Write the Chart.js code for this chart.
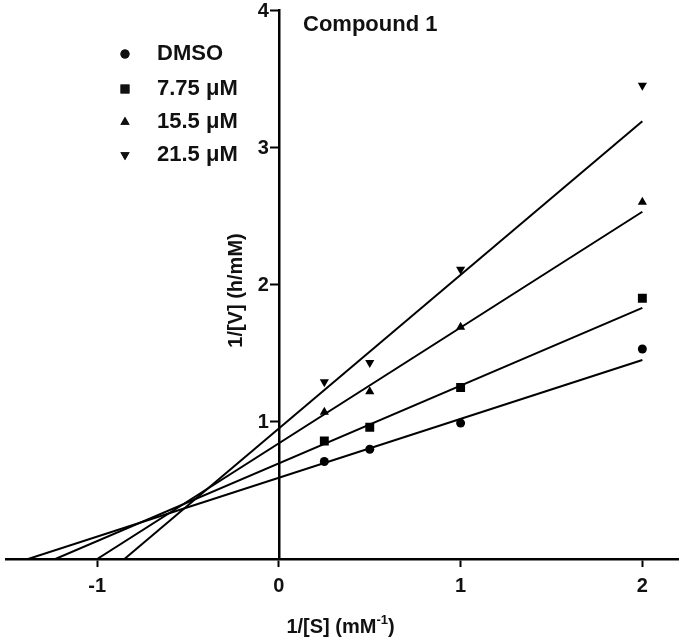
<!DOCTYPE html>
<html>
<head>
<meta charset="utf-8">
<script src="https://cdn.jsdelivr.net/npm/chart.js@4/dist/chart.umd.min.js"></script>
<style>
  html, body { margin: 0; padding: 0; background: #fff; }
  #wrap { width: 685px; height: 639px; position: relative; }
</style>
</head>
<body>
<div id="wrap"><canvas id="chart"></canvas></div>
<script>
// 1/[S] values (mM^-1)
const sInv = [0.25, 0.5, 1, 2];

// 1/[V] values (h/mM) for each condition
const dmso = [0.71, 0.80, 0.99, 1.53];
const c775 = [0.86, 0.96, 1.25, 1.90];
const c155 = [1.07, 1.22, 1.69, 2.60];
const c215 = [1.29, 1.43, 2.11, 3.45];

// fitted lines: start on the x axis, end at 1/[S] = 2
const fitStartX = [-1.38, -1.23, -1.00, -0.85];
const fitEndX = 2;
const fitEndY = [1.45, 1.83, 2.53, 3.19];

const seriesNames = ['DMSO', '7.75 \u03bcM', '15.5 \u03bcM', '21.5 \u03bcM'];
const xTicks = [-1, 0, 1, 2];
const yTicks = [1, 2, 3, 4];

const FONT = '"Liberation Sans", Arial, Helvetica, sans-serif';
const INK = '#000';

const allSeries = [dmso, c775, c155, c215];
const markers = [
    { style: 'circle', rot: 0, r: 4.5 },
    { style: 'rect', rot: 0, r: 6.3 },
    { style: 'triangle', rot: 0, r: 5.3 },
    { style: 'triangle', rot: 180, r: 5.3 }
];

const datasets = [];

// regression lines
allSeries.forEach(function (s, i) {
    datasets.push({
        label: seriesNames[i] + ' fit',
        data: [{ x: fitStartX[i], y: 0 }, { x: fitEndX, y: fitEndY[i] }],
        showLine: true,
        borderColor: INK,
        borderWidth: 2,
        pointRadius: 0,
        fill: false
    });
});

// measured points
allSeries.forEach(function (s, i) {
    datasets.push({
        label: seriesNames[i],
        data: sInv.map((x, j) => ({ x: x, y: s[j] })),
        showLine: false,
        pointStyle: markers[i].style,
        rotation: markers[i].rot,
        pointRadius: markers[i].r,
        backgroundColor: INK,
        borderColor: INK,
        borderWidth: 0
    });
});

// legend, title, y tick labels and axis titles drawn on top
const extras = {
    id: 'extras',
    afterDraw(chart) {
        const ctx = chart.ctx;
        const xs = chart.scales.x;
        const ys = chart.scales.y;
        ctx.save();
        ctx.fillStyle = '#111';

        // y tick labels, left of the tick marks
        const axisX = xs.getPixelForValue(0);
        ctx.font = 'bold 20px ' + FONT;
        ctx.textAlign = 'right';
        ctx.textBaseline = 'middle';
        yTicks.forEach(function (v) {
            ctx.fillText(String(v), axisX - 10, ys.getPixelForValue(v) + 1);
        });

        // legend
        ctx.font = 'bold 22px ' + FONT;
        ctx.textAlign = 'left';
        const rows = [54, 89, 122, 155];
        seriesNames.forEach(function (name, i) {
            Chart.helpers.drawPoint(ctx, {
                pointStyle: markers[i].style,
                rotation: markers[i].rot,
                radius: markers[i].r,
                borderWidth: 0
            }, 125, rows[i]);
            ctx.fill();
            ctx.fillText(name, 157, rows[i]);
        });

        // title
        ctx.textBaseline = 'alphabetic';
        ctx.fillText('Compound 1', 303, 31);

        // x axis title with superscript
        const cx = (xs.left + xs.right) / 2 - 2;
        const main = '1/[S] (mM';
        ctx.font = 'bold 20px ' + FONT;
        const w1 = ctx.measureText(main).width;
        const w3 = ctx.measureText(')').width;
        ctx.font = 'bold 13px ' + FONT;
        const w2 = ctx.measureText('-1').width;
        const x0 = cx - (w1 + w2 + w3) / 2;
        const base = 633;
        ctx.font = 'bold 20px ' + FONT;
        ctx.fillText(main, x0, base);
        ctx.fillText(')', x0 + w1 + w2, base);
        ctx.font = 'bold 13px ' + FONT;
        ctx.fillText('-1', x0 + w1, base - 9);

        // y axis title
        ctx.translate(236, (ys.top + ys.bottom) / 2 + 6);
        ctx.rotate(-Math.PI / 2);
        ctx.textAlign = 'center';
        ctx.textBaseline = 'middle';
        ctx.font = 'bold 20px ' + FONT;
        ctx.fillText('1/[V] (h/mM)', 0, 0);

        ctx.restore();
    }
};

const ctx = document.getElementById('chart').getContext('2d');
const chart = new Chart(ctx, {
    type: 'scatter',
    data: { datasets: datasets },
    plugins: [extras],
    options: {
        responsive: true,
        maintainAspectRatio: false,
        animation: false,
        layout: { padding: { left: 2, right: 3, top: 10, bottom: 34 } },
        plugins: {
            legend: { display: false },
            tooltip: { enabled: false }
        },
        scales: {
            x: {
                type: 'linear',
                position: 'bottom',
                min: -1.5,
                max: 2.2,
                afterBuildTicks: function (axis) {
                    axis.ticks = xTicks.map(v => ({ value: v }));
                },
                grid: {
                    drawOnChartArea: false,
                    drawTicks: true,
                    tickLength: 8,
                    tickWidth: 2,
                    tickColor: INK
                },
                border: { display: true, color: INK, width: 2.5 },
                ticks: {
                    color: '#111',
                    padding: 7,
                    maxRotation: 0,
                    font: { family: FONT, size: 20, weight: 'bold' },
                    callback: v => String(v)
                }
            },
            y: {
                type: 'linear',
                position: { x: 0 },
                min: 0,
                max: 4,
                afterBuildTicks: function (axis) {
                    axis.ticks = yTicks.map(v => ({ value: v }));
                },
                grid: {
                    drawOnChartArea: false,
                    drawTicks: true,
                    tickLength: 8,
                    tickWidth: 2,
                    tickColor: INK
                },
                border: { display: true, color: INK, width: 2.5 },
                ticks: { display: false }
            }
        }
    }
});
</script>
</body>
</html>
